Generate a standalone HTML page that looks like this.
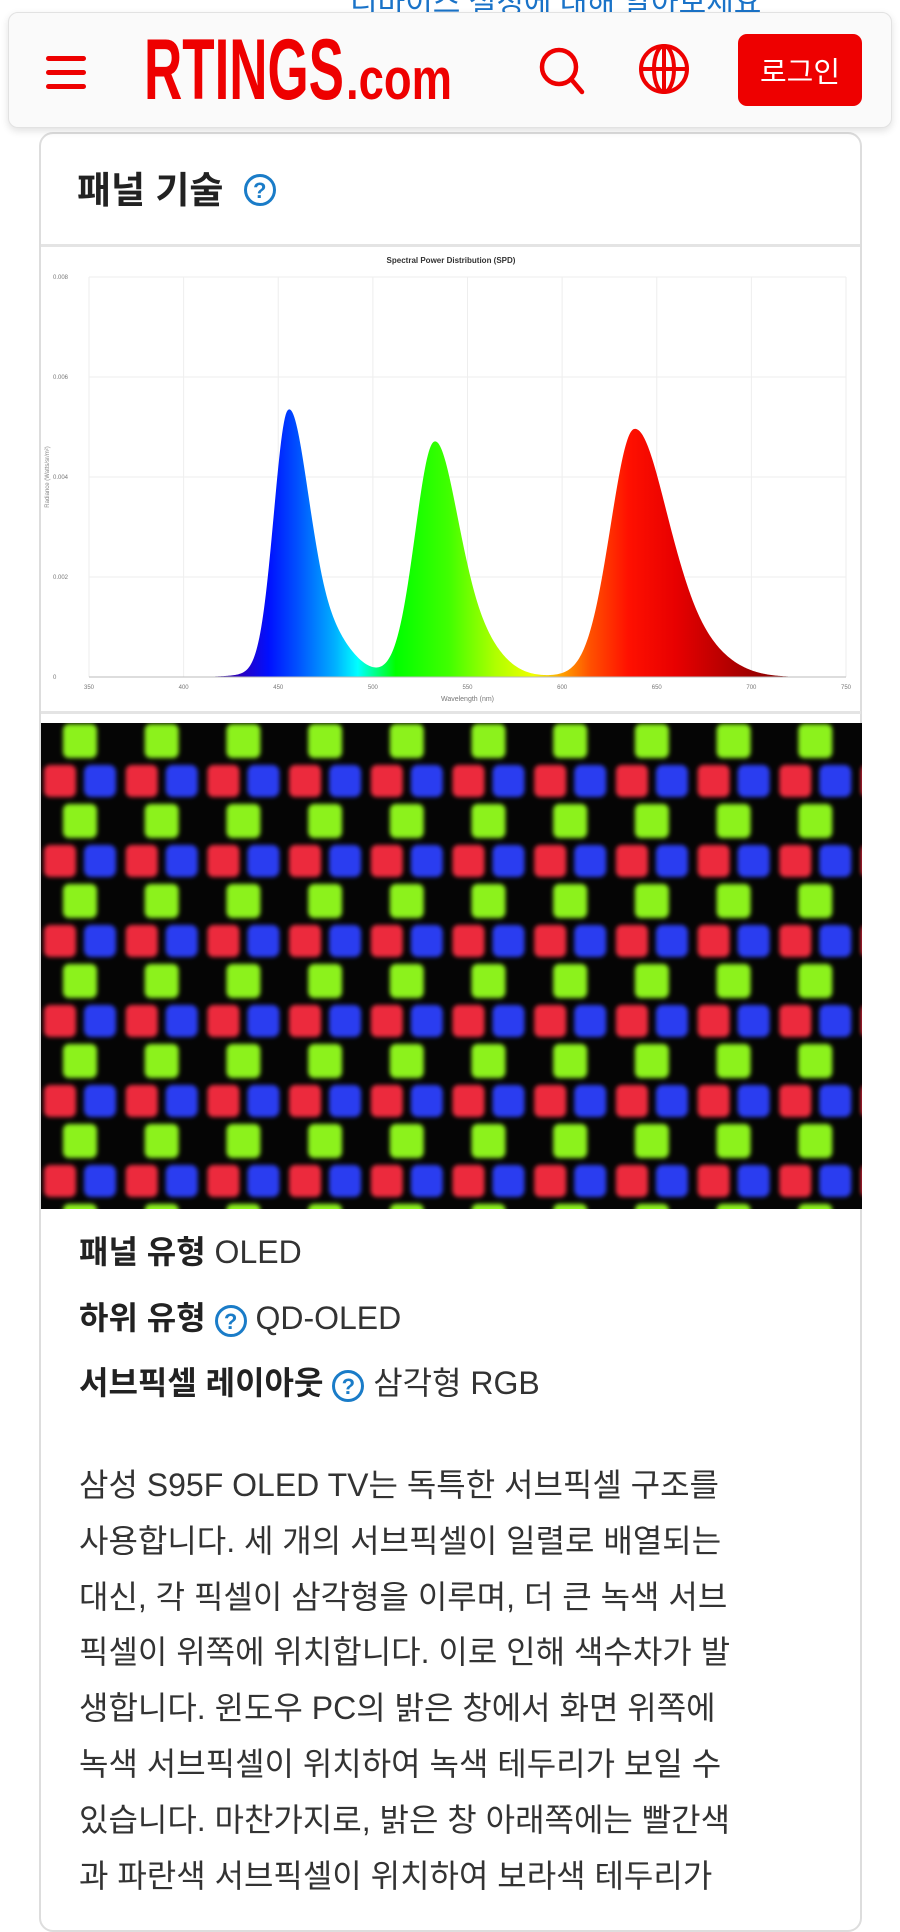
<!DOCTYPE html>
<html><head><meta charset="utf-8">
<style>
*{box-sizing:border-box;margin:0;padding:0}
html,body{width:900px;height:1868px;overflow:hidden;background:#fff;font-family:"Liberation Sans","Noto Sans CJK KR",sans-serif}
.abs{position:absolute}
#toplink{left:350px;top:-22px;font-size:30px;color:#1a73c8;white-space:nowrap}
#card{left:39px;top:132px;width:823px;height:1800px;border:2px solid #ddd;border-radius:14px;background:#fff}
#header{left:8px;top:12px;width:884px;height:116px;background:#fafafa;border:1px solid #e2e2e2;border-radius:10px;box-shadow:0 3px 8px rgba(0,0,0,.12)}
.ham{position:absolute;left:37px;width:40px;height:5px;background:#e00;border-radius:3px}
#login{left:738px;top:34px;width:124px;height:72px;background:#e00;border-radius:9px;color:#fff;font-size:29px;display:flex;align-items:center;justify-content:center;font-family:"Noto Sans CJK KR",sans-serif}
#title{left:77px;top:160px;font-size:37px;font-weight:bold;color:#222;font-family:"Liberation Sans","Noto Sans CJK KR",sans-serif}
.q{display:inline-block;width:32px;height:32px;border:3px solid #1a7cc8;border-radius:50%;color:#1a7cc8;font-size:22px;font-weight:bold;text-align:center;line-height:27px;font-family:"Liberation Sans",sans-serif;vertical-align:middle}
#divider{left:41px;top:244px;width:819px;height:3px;background:#e4e4e4}
.spec{position:absolute;left:79px;font-size:32px;color:#333;white-space:nowrap;font-family:"Liberation Sans","Noto Sans CJK KR",sans-serif}
.spec b{color:#222}
#para{left:79px;top:1458px;width:760px;font-size:32px;line-height:55.8px;color:#333;white-space:nowrap}
</style></head><body>
<div id="toplink" class="abs">디바이스 설정에 대해 알아보세요</div>
<div id="card" class="abs"></div>
<div id="header" class="abs">
  <div class="ham" style="top:43px"></div>
  <div class="ham" style="top:57px"></div>
  <div class="ham" style="top:71px"></div>
  <svg class="abs" style="left:130px;top:4px" width="330" height="90">
    <text x="5" y="82" fill="#e00" font-family="Liberation Sans" font-weight="bold" font-size="86" textLength="200" lengthAdjust="spacingAndGlyphs">RTINGS</text>
    <text x="207" y="82" fill="#e00" font-family="Liberation Sans" font-weight="bold" font-size="58" textLength="106" lengthAdjust="spacingAndGlyphs">.com</text>
  </svg>
  <svg class="abs" style="left:525px;top:28px" width="60" height="60"><circle cx="25" cy="26" r="17" fill="none" stroke="#e00" stroke-width="4.5"/><line x1="37" y1="38" x2="48" y2="51" stroke="#e00" stroke-width="4.5" stroke-linecap="round"/></svg>
  <svg class="abs" style="left:625px;top:26px" width="60" height="60"><circle cx="30" cy="30" r="23" fill="none" stroke="#e00" stroke-width="4"/><ellipse cx="30" cy="30" rx="10" ry="23" fill="none" stroke="#e00" stroke-width="4"/><line x1="7" y1="30" x2="53" y2="30" stroke="#e00" stroke-width="4"/><line x1="30" y1="7" x2="30" y2="53" stroke="#e00" stroke-width="4"/></svg>
</div>
<div id="login" class="abs">로그인</div>
<div id="title" class="abs">패널 기술 <span class="q" style="margin-left:10px;margin-top:-6px">?</span></div>
<div id="divider" class="abs"></div>
<svg class="abs" id="chart" style="left:41px;top:247px" width="820" height="466"></svg>
<div class="abs" style="left:41px;top:711px;width:820px;height:3px;background:#e4e4e4"></div>
<svg class="abs" id="pix" style="left:41px;top:723px" width="821" height="486"></svg>
<div class="spec" style="top:1227px"><b>패널 유형</b> OLED</div>
<div class="spec" style="top:1293px"><b>하위 유형</b> <span class="q">?</span> QD-OLED</div>
<div class="spec" style="top:1358px"><b>서브픽셀 레이아웃</b> <span class="q">?</span> 삼각형 RGB</div>
<div id="para" class="abs">삼성 S95F OLED TV는 독특한 서브픽셀 구조를<br>사용합니다. 세 개의 서브픽셀이 일렬로 배열되는<br>대신, 각 픽셀이 삼각형을 이루며, 더 큰 녹색 서브<br>픽셀이 위쪽에 위치합니다. 이로 인해 색수차가 발<br>생합니다. 윈도우 PC의 밝은 창에서 화면 위쪽에<br>녹색 서브픽셀이 위치하여 녹색 테두리가 보일 수<br>있습니다. 마찬가지로, 밝은 창 아래쪽에는 빨간색<br>과 파란색 서브픽셀이 위치하여 보라색 테두리가</div>
<script>
(function(){
var L=89-41,R=846-41,Y0=677-247,YT=277-247;
function X(w){return L+(w-350)/400*(R-L);}
function Y(v){return Y0-(v/0.008)*(Y0-YT);}
function sech(z){return 2/(Math.exp(z)+Math.exp(-z));}
function g(x,c,a,wl,wr){var w=x<c?wl:wr;var z=(x-c)/w;return a*Math.exp(-z*z/2);}
function f(x){
 var b=g(x,455,0.0047,7.5,10)+g(x,472,0.0010,10,14)+0.0004*sech((x-455)/9);
 var gr=g(x,532,0.0041,10,12)+g(x,552,0.0008,12,14)+0.0004*sech((x-532)/10);
 var r=g(x,638,0.0046,12.5,17)+g(x,668,0.0006,14,18)+0.0003*sech((x-638)/13);
 return b+gr+r;}
var s='<text x="410" y="16" font-size="8" font-weight="bold" text-anchor="middle" fill="#333" font-family="Liberation Sans">Spectral Power Distribution (SPD)</text>';
for(var i=0;i<=8;i++){var x=X(350+50*i);s+='<line x1="'+x+'" y1="'+YT+'" x2="'+x+'" y2="'+Y0+'" stroke="#eee"/>';
 s+='<text x="'+x+'" y="'+(Y0+12)+'" font-size="6" fill="#777" text-anchor="middle" font-family="Liberation Sans">'+(350+50*i)+'</text>';}
for(var j=0;j<=4;j++){var y=Y(0.002*j);s+='<line x1="'+L+'" y1="'+y+'" x2="'+R+'" y2="'+y+'" stroke="#eee"/>';
 s+='<text x="12" y="'+(y+2)+'" font-size="6" fill="#777" font-family="Liberation Sans">'+(j?(0.002*j).toFixed(3):'0')+'</text>';}
s+='<text x="8" y="'+((YT+Y0)/2)+'" font-size="6" fill="#888" text-anchor="middle" transform="rotate(-90 8 '+((YT+Y0)/2)+')" font-family="Liberation Sans">Radiance (Watts/sr/m²)</text>';
s+='<text x="'+X(550)+'" y="'+(Y0+24)+'" font-size="7" fill="#777" text-anchor="middle" font-family="Liberation Sans">Wavelength (nm)</text>';
var stops=[[400,'#300060'],[430,'#2a00c0'],[445,'#0010ff'],[460,'#0050ff'],[480,'#00b0ff'],[492,'#00ffff'],[502,'#00ff80'],[512,'#00ff00'],[540,'#40ff00'],[565,'#b0ff00'],[585,'#f0ff00'],[600,'#ffa000'],[615,'#ff5000'],[635,'#ff1000'],[660,'#e80000'],[690,'#b00000'],[730,'#700000']];
s+='<defs><linearGradient id="sp" gradientUnits="userSpaceOnUse" x1="'+X(350)+'" y1="0" x2="'+X(750)+'" y2="0">';
stops.forEach(function(t){s+='<stop offset="'+((t[0]-350)/400)+'" stop-color="'+t[1]+'"/>';});
s+='</linearGradient></defs>';
var d='M'+X(400)+','+Y0;
for(var w=400;w<=750;w+=0.5){d+=' L'+X(w).toFixed(2)+','+Y(f(w)).toFixed(2);}
d+=' L'+X(750)+','+Y0+' Z';
s+='<path d="'+d+'" fill="url(#sp)"/>';
s+='<line x1="'+L+'" y1="'+Y0+'" x2="'+R+'" y2="'+Y0+'" stroke="#bbb"/>';
document.getElementById('chart').innerHTML=s;
var p='<defs><filter id="bl" x="-20%" y="-20%" width="140%" height="140%"><feGaussianBlur stdDeviation="2"/></filter></defs><rect width="821" height="486" fill="#050505"/><g filter="url(#bl)">';
var P=81.7;
for(var r=0;r<7;r++){
 var gy=1+r*80, ry=42+r*80;
 for(var c=0;c<11;c++){
  var gx=18+c*P;
  p+='<rect x="'+(gx+4)+'" y="'+gy+'" width="34" height="34" rx="6" fill="#8cf21c"/>';
  p+='<rect x="'+(gx-15)+'" y="'+ry+'" width="32" height="32" rx="6" fill="#ec2a3c"/>';
  p+='<rect x="'+(gx+25)+'" y="'+ry+'" width="32" height="32" rx="7" fill="#2a3cf0"/>';
 }}
p+='</g>';
document.getElementById('pix').innerHTML=p;
})();
</script>
</body></html>
